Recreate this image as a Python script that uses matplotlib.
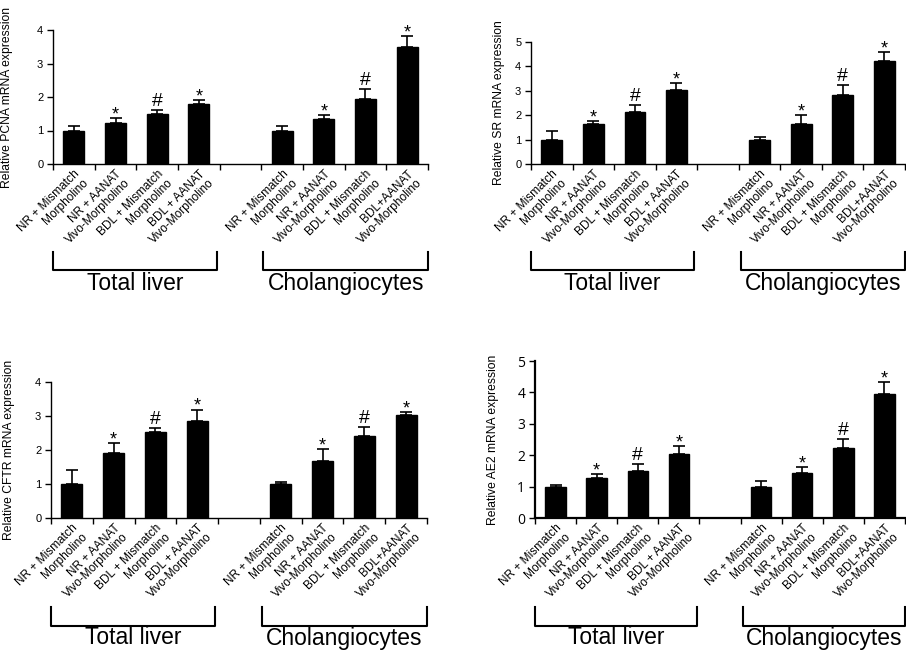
# bar charts: relative mRNA expression, total liver vs cholangiocytes

import matplotlib
matplotlib.use("Agg")
import matplotlib.pyplot as plt
import matplotlib.transforms as mtransforms

plt.rcParams['font.family'] = ['Liberation Sans', 'DejaVu Sans']

W, H = 906, 656

# data
positions = [0, 1, 2, 3, 5, 6, 7, 8]
labels = ["NR + Mismatch\nMorpholino", "NR + AANAT\nVivo-Morpholino",
          "BDL + Mismatch\nMorpholino", "BDL + AANAT\nVivo-Morpholino",
          "NR + Mismatch\nMorpholino", "NR + AANAT\nVivo-Morpholino",
          "BDL + Mismatch\nMorpholino", "BDL+AANAT\nVivo-Morpholino"]
marks = ["", "*", "#", "*", "", "*", "#", "*"]
groups = ["Total liver", "Cholangiocytes"]

pcna = [1.0, 1.23, 1.49, 1.78, 1.0, 1.34, 1.94, 3.48]
pcna_err = [0.13, 0.13, 0.12, 0.13, 0.13, 0.12, 0.30, 0.35]
sr = [1.0, 1.64, 2.15, 3.03, 1.0, 1.64, 2.81, 4.23]
sr_err = [0.35, 0.13, 0.26, 0.30, 0.11, 0.36, 0.41, 0.37]
cftr = [1.0, 1.90, 2.52, 2.86, 1.0, 1.68, 2.41, 3.03]
cftr_err = [0.40, 0.30, 0.12, 0.33, 0.07, 0.34, 0.26, 0.09]
ae2 = [1.0, 1.28, 1.50, 2.05, 1.0, 1.44, 2.22, 3.94]
ae2_err = [0.06, 0.11, 0.23, 0.24, 0.18, 0.19, 0.30, 0.40]


def px_rect(left, right, top, bottom):
    return [left / W, 1 - bottom / H, (right - left) / W, (bottom - top) / H]


def draw_panel(fig, rect, vals, errs, ymax, ylabel, label_x, bracket_y, group_y,
               tickfont=None, ticksize=8, spine_w=1.0):
    ax = fig.add_axes(rect)
    ax.bar(positions, vals, width=0.5, color='black', edgecolor='black', zorder=2)
    ax.errorbar(positions, vals, yerr=[[0] * len(errs), errs], fmt='none',
                ecolor='black', elinewidth=1.2, capsize=4, capthick=1.2, zorder=3)
    for x, v, e, m in zip(positions, vals, errs, marks):
        if m == "#":
            ax.annotate(m, (x, v + e), xytext=(0, 3), textcoords='offset points',
                        ha='center', va='baseline', fontsize=14)
        elif m == "*":
            ax.annotate(m, (x, v + e), xytext=(0, -1), textcoords='offset points',
                        ha='center', va='baseline', fontsize=13)

    ax.set_xlim(-0.5, 8.5)
    ax.set_ylim(0, ymax)
    ax.set_yticks(range(ymax + 1))
    ax.set_xticks([i - 0.5 for i in range(10)])
    ax.set_xticklabels([])
    ax.set_xticks(positions, minor=True)
    ax.set_xticklabels(labels, minor=True, rotation=45, ha='right', va='top',
                       rotation_mode='anchor', multialignment='right', fontsize=8.6,
                       linespacing=1.05)
    ax.tick_params(axis='x', which='minor', length=0, pad=3)
    ax.tick_params(axis='x', which='major', direction='out', length=4, width=1)
    ax.tick_params(axis='y', direction='out', length=4, width=1, pad=3,
                   labelsize=ticksize)
    if tickfont:
        for t in ax.get_yticklabels():
            t.set_fontfamily(tickfont)
    for s in ['top', 'right']:
        ax.spines[s].set_visible(False)
    for s in ['left', 'bottom']:
        ax.spines[s].set_linewidth(spine_w)

    ax.set_ylabel(ylabel, fontsize=8.7)
    ax.yaxis.set_label_coords(label_x / W, 0.5, transform=mtransforms.blended_transform_factory(fig.transFigure, ax.transAxes))

    # brackets below the tick labels
    tr = mtransforms.blended_transform_factory(ax.transData, fig.transFigure)
    y_top = 1 - bracket_y[0] / H
    y_bot = 1 - bracket_y[1] / H
    for (x0, x1), name in zip([(-0.5, 3.43), (4.55, 8.5)], groups):
        ax.plot([x0, x0, x1, x1], [y_top, y_bot, y_bot, y_top], color='black',
                lw=1.5, transform=tr, clip_on=False)
        ax.text((x0 + x1) / 2, 1 - group_y / H, name, transform=tr,
                ha='center', va='center', fontsize=16.5)
    return ax


fig = plt.figure(figsize=(W / 100, H / 100), dpi=100)

draw_panel(fig, px_rect(53, 428, 30, 164), pcna, pcna_err, 4,
           "Relative PCNA mRNA expression", 13, (252, 270), 284)
draw_panel(fig, px_rect(531, 905, 42, 164), sr, sr_err, 5,
           "Relative SR mRNA expression", 505, (252, 270), 284)
draw_panel(fig, px_rect(51, 427, 382, 518), cftr, cftr_err, 4,
           "Relative CFTR mRNA expression", 15, (607, 626), 638)
draw_panel(fig, px_rect(535, 905, 361, 518), ae2, ae2_err, 5,
           "Relative AE2 mRNA expression", 499, (607, 626), 638,
           tickfont='Open Sans', ticksize=10, spine_w=1.6)

fig.savefig("out.png", dpi=100)
